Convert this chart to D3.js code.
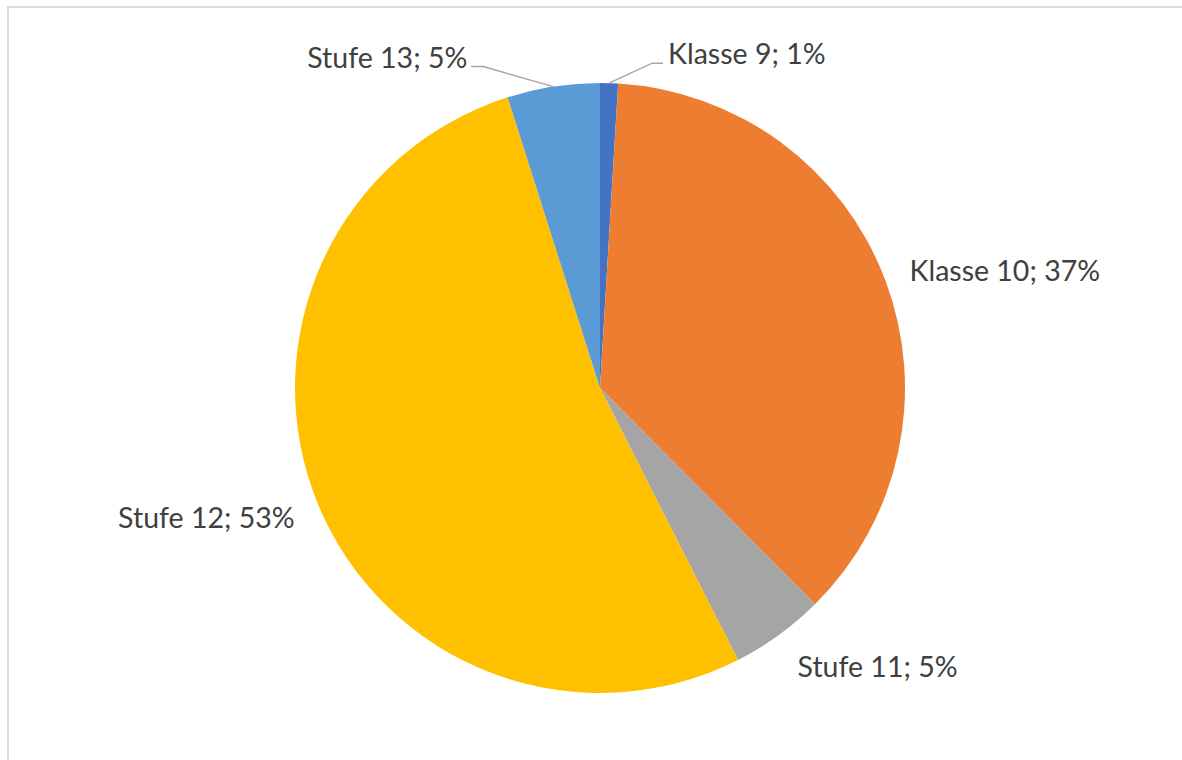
<!DOCTYPE html>
<html>
<head>
<meta charset="utf-8">
<script src="https://cdn.jsdelivr.net/npm/d3@7"></script>
<style>
  html, body { margin: 0; padding: 0; background: #fff; }
  svg { display: block; }
</style>
</head>
<body>
<div id="chart"></div>
<script>
const categories = ["Klasse 9", "Klasse 10", "Stufe 11", "Stufe 12", "Stufe 13"];
const shares = [0.95, 36.6, 5.0, 52.6, 4.9];
const colors = ["#4472C4", "#ED7D31", "#A5A5A5", "#FFC000", "#5B9BD5"];

const W = 1182, H = 760;
const cx = 600, cy = 388, r = 305;

const svg = d3.select("#chart").append("svg")
  .attr("width", W).attr("height", H);

// outer chart frame (right/bottom edges fall outside the window)
svg.append("rect")
  .attr("x", 8).attr("y", 7)
  .attr("width", W + 20).attr("height", H + 20)
  .attr("fill", "none")
  .attr("stroke", "#d9d9d9")
  .attr("stroke-width", 2);

const data = categories.map((c, i) => ({ name: c, value: shares[i], color: colors[i] }));
const total = d3.sum(data, d => d.value);

const pie = d3.pie().sort(null).value(d => d.value);
const arcs = pie(data);
const arc = d3.arc().innerRadius(0).outerRadius(r);

const g = svg.append("g").attr("transform", `translate(${cx},${cy})`);

g.selectAll("path.slice")
  .data(arcs)
  .join("path")
  .attr("class", "slice")
  .attr("d", arc)
  .attr("fill", d => d.data.color);

// label placement (best-fit outside end, small slices get a leader)
const labelCfg = {
  "Klasse 9":  { leader: true, knee: [43, -20], tail: 11, gap: 5 },
  "Klasse 10": { pad: 26, anchor: "start" },
  "Stufe 11":  { pad: 32, anchor: "start", top: true },
  "Stufe 12":  { pad: 25, anchor: "end", dy: 5 },
  "Stufe 13":  { leader: true, knee: [-70, -20], tail: 12, gap: 4 }
};

const fontSize = 28.5;
const capH = fontSize * 0.72;
const polar = (a, rad) => [rad * Math.sin(a), -rad * Math.cos(a)];
const fmt = d => Math.round(d.value / total * 100) + "%";

arcs.forEach(d => {
  const cfg = labelCfg[d.data.name];
  const mid = (d.startAngle + d.endAngle) / 2;
  const text = `${d.data.name}; ${fmt(d.data)}`;
  let tx, ty, anchor;
  if (cfg.leader) {
    const p0 = polar(mid, r);
    const p1 = [p0[0] + cfg.knee[0], p0[1] + cfg.knee[1]];
    const side = cfg.knee[0] >= 0 ? 1 : -1;
    const p2 = [p1[0] + side * cfg.tail, p1[1]];
    g.append("polyline")
      .attr("points", [p0, p1, p2].map(p => p.join(",")).join(" "))
      .attr("fill", "none")
      .attr("stroke", "#a6a6a6")
      .attr("stroke-width", 1.5);
    tx = p2[0] + side * cfg.gap;
    ty = p2[1] + 1;
    anchor = side > 0 ? "start" : "end";
  } else {
    const p = polar(mid, r + cfg.pad);
    tx = p[0];
    ty = cfg.top ? p[1] + capH - 5 : p[1] + capH / 2 + (cfg.dy || 0);
    anchor = cfg.anchor;
  }
  g.append("text")
    .attr("x", tx).attr("y", ty)
    .attr("text-anchor", anchor)
    .attr("font-family", "Lato, 'Open Sans', sans-serif")
    .attr("font-size", fontSize)
    .attr("fill", "#404040")
    .text(text);
});
</script>
</body>
</html>
